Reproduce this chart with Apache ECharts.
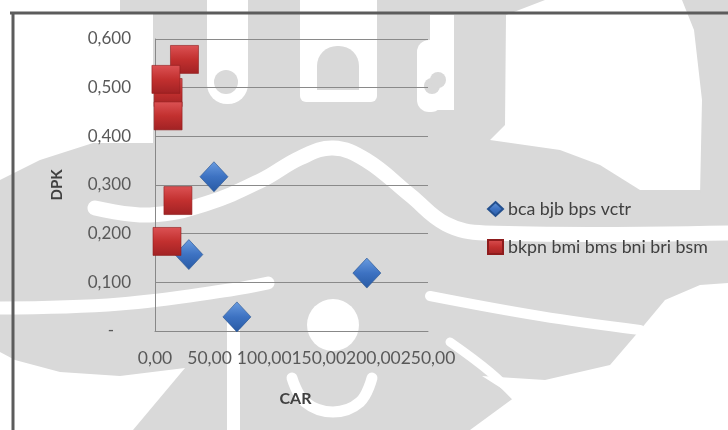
<!DOCTYPE html>
<html>
<head>
<meta charset="utf-8">
<script src="https://cdn.jsdelivr.net/npm/echarts@6/dist/echarts.min.js"></script>
<style>
  html, body { margin: 0; padding: 0; background: #ffffff; }
  #chart { width: 728px; height: 430px; }
</style>
</head>
<body>
<div id="chart"></div>
<script>
// CAR (x) vs DPK (y) for two groups of banks
const groupA = 'bca bjb bps vctr';
const groupB = 'bkpn bmi bms bni bri bsm';

const carA = [54, 31, 194, 75];
const dpkA = [0.317, 0.157, 0.119, 0.029];

const carB = [12, 27, 10, 12, 21, 11];
const dpkB = [0.490, 0.558, 0.517, 0.442, 0.268, 0.184];

const xTicks = { min: 0, max: 250, step: 50 };
const yTicks = { min: 0, max: 0.6, step: 0.1 };

const FONT = 'Lato';
const pairs = (xs, ys) => xs.map((x, i) => [x, ys[i]]);
const comma = (v, d) => v.toFixed(d).replace('.', ',');

// background makara watermark, drawn in soft grey with white cut-outs
const GREY = '#d9d9d9';
const WHITE = '#ffffff';
const wm = [];
function poly(points, fill, z) { wm.push({ type: 'polygon', z: z, silent: true, shape: { points }, style: { fill } }); }
function band(points, width, z) { wm.push({ type: 'polyline', z: z, silent: true, shape: { points, smooth: 0.4 }, style: { stroke: WHITE, lineWidth: width, fill: null, lineCap: 'round' } }); }
function circ(cx, cy, r, fill, z) { wm.push({ type: 'circle', z: z, silent: true, shape: { cx, cy, r }, style: { fill } }); }
function box(x, y, w, h, r, fill, z) { wm.push({ type: 'rect', z: z, silent: true, shape: { x, y, width: w, height: h, r }, style: { fill } }); }

poly([[120,0],[545,0],[506,15],[505,125],[490,140],[560,150],[600,165],[640,190],[728,190],
      [728,283],[700,285],[665,300],[640,330],[610,365],[545,380],[482,376],[515,397],[470,430],
      [133,430],[185,368],[120,376],[60,372],[15,360],[0,352],[0,180],[40,160],[93,143],
      [153,143],[153,13],[120,13]], GREY, -30);
poly([[682,0],[728,0],[728,195],[700,195],[702,100],[694,30]], GREY, -30);

// letters along the top
box(207, 0, 41, 104, [0, 0, 20, 20], WHITE, -20);
circ(226, 82, 12, GREY, -19);
box(300, 0, 77, 102, [0, 0, 6, 6], WHITE, -20);
box(317, 46, 42, 44, [20, 20, 0, 0], GREY, -19);
box(417, 40, 26, 72, [12, 12, 12, 12], WHITE, -20);
circ(432, 86, 8, GREY, -19);
box(430, 15, 24, 95, 0, WHITE, -20);
circ(438, 80, 8, GREY, -19);

// sweeping arch and horizontal bands
band([[95,208],[150,215],[205,204],[262,180],[300,158],[333,148],[366,160],[410,195],[446,224],[485,233],[728,233]], 15, -20);
band([[0,308],[120,304],[230,290],[268,283]], 13, -20);
band([[430,296],[540,316],[640,330]], 10, -20);
band([[450,342],[490,372],[517,398]], 9, -20);
box(227, 318, 13, 112, 0, WHITE, -20);
circ(333, 325, 26, WHITE, -20);
band([[292,378],[305,402],[333,412],[360,402],[372,378]], 11, -20);

// outer frame, top and left edges
wm.push({ type: 'line', z: 50, silent: true, shape: { x1: 10, y1: 13, x2: 728, y2: 13 }, style: { stroke: '#5c5c5c', lineWidth: 3 } });
wm.push({ type: 'line', z: 50, silent: true, shape: { x1: 13, y1: 13, x2: 13, y2: 430 }, style: { stroke: '#5c5c5c', lineWidth: 3 } });

const redFill = new echarts.graphic.LinearGradient(0, 0, 0, 1, [
  { offset: 0, color: '#dc5254' }, { offset: 0.5, color: '#c2302f' }, { offset: 1, color: '#a12224' }
]);
const blueFill = new echarts.graphic.LinearGradient(0, 0, 0, 1, [
  { offset: 0, color: '#6a9ce0' }, { offset: 0.5, color: '#3d72c2' }, { offset: 1, color: '#285aa4' }
]);

const chart = echarts.init(document.getElementById('chart'), null, { renderer: 'canvas' });
chart.setOption({
  animation: false,
  backgroundColor: '#ffffff',
  graphic: { elements: wm },
  grid: { left: 155, right: 300, top: 39, bottom: 99, containLabel: false },
  xAxis: {
    type: 'value', min: xTicks.min, max: xTicks.max, interval: xTicks.step,
    name: 'CAR', nameLocation: 'middle', nameGap: 60,
    nameTextStyle: { fontFamily: FONT, fontSize: 16, fontWeight: 'bold', color: '#404040', padding: [0, 0, 0, 8] },
    axisLine: { show: true, lineStyle: { color: '#888888', width: 1 } },
    axisTick: { show: false },
    splitLine: { show: false },
    axisLabel: { fontFamily: FONT, fontSize: 17.5, color: '#595959', margin: 18, formatter: v => comma(v, 2) }
  },
  yAxis: {
    type: 'value', min: yTicks.min, max: yTicks.max, interval: yTicks.step,
    name: 'DPK', nameLocation: 'middle', nameGap: 90,
    nameTextStyle: { fontFamily: FONT, fontSize: 15, fontWeight: 'bold', color: '#404040' },
    axisLine: { show: true, lineStyle: { color: '#888888', width: 1 } },
    axisTick: { show: false },
    splitLine: { show: true, lineStyle: { color: '#8a8a8a', width: 1 } },
    axisLabel: {
      fontFamily: FONT, fontSize: 17, color: '#595959', margin: 24,
      formatter: v => v === 0 ? '{z|-}' : comma(v, 3),
      rich: { z: { fontFamily: FONT, fontSize: 17, color: '#595959', padding: [0, 17, 0, 0] } }
    }
  },
  legend: {
    orient: 'vertical', left: 487, top: 200, padding: 0, itemGap: 20, itemWidth: 15, itemHeight: 14,
    textStyle: { fontFamily: FONT, fontSize: 17.8, color: '#404040' },
    data: [groupA, groupB]
  },
  series: [
    {
      name: groupA, type: 'scatter', symbol: 'diamond', symbolSize: [28, 30],
      itemStyle: { color: blueFill, borderColor: '#24508f', borderWidth: 0.6, opacity: 1 },
      data: pairs(carA, dpkA), z: 3
    },
    {
      name: groupB, type: 'scatter', symbol: 'rect', symbolSize: 28,
      itemStyle: { color: redFill, borderColor: '#8e1c1d', borderWidth: 0.6, opacity: 1 },
      data: pairs(carB, dpkB), z: 4
    }
  ]
});
</script>
</body>
</html>
